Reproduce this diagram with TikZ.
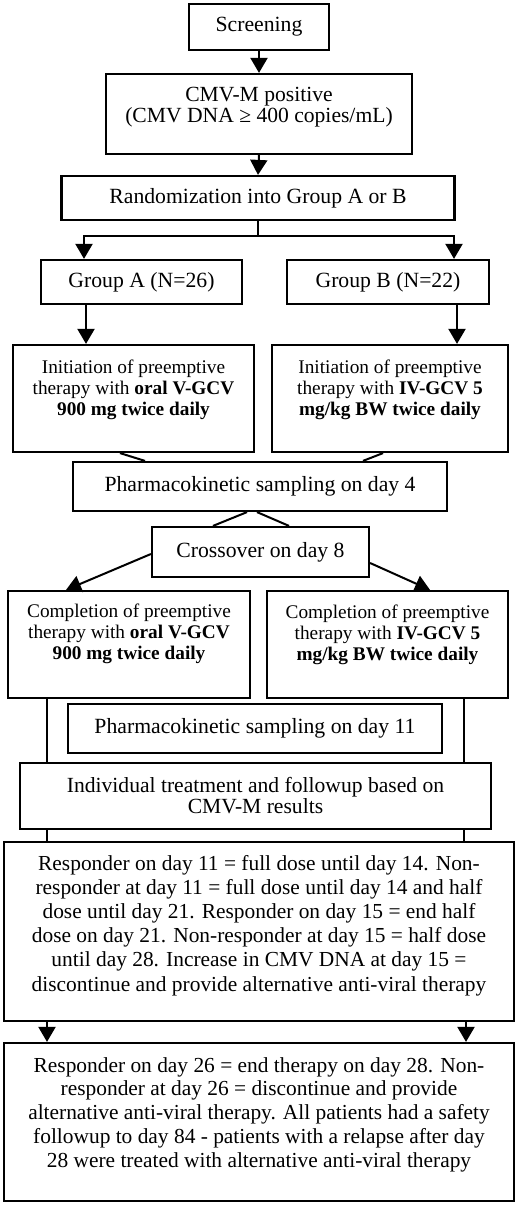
\documentclass[tikz,border=0pt]{standalone}
\usepackage{fontspec}
\setmainfont{Liberation Serif}
\usetikzlibrary{arrows.meta}
\tikzset{
  box/.style={draw, line width=2.2pt, inner sep=0pt, align=center, font=\fontsize{21.7pt}{21.7pt}\selectfont},
  pbox/.style={draw, line width=2.2pt, inner sep=0pt},
  conn/.style={line width=2pt},
  arr/.style={conn, -{Triangle[width=17pt,length=15pt]}},
}
% width, height, font size, leading, first baseline, text
\newcommand{\tb}[6]{\parbox[c][#2pt][t]{#1pt}{\fontsize{#3pt}{#4pt}\selectfont\centering\rule{0pt}{#5pt}#6\par}}
\begin{document}
\begin{tikzpicture}[x=1pt,y=-1pt]
\useasboundingbox (0,0) rectangle (520,1206);
\fill[white] (0,0) rectangle (520,1206);

\node[box, minimum width=140pt, minimum height=46pt] (scr) at (259,27) {Screening};
\node[pbox] (cmv) at (259,114) {\tb{306}{80}{21.6}{21}{28}{CMV-M positive\\ (CMV DNA ≥ 400 copies/mL)}};
\node[box, minimum width=393pt, minimum height=44pt] (rand) at (258,198) {Randomization into Group A or B};
\node[box, minimum width=201pt, minimum height=44pt] (ga) at (141.5,282) {Group A (N=26)};
\node[box, minimum width=202pt, minimum height=44pt] (gb) at (388,282) {Group B (N=22)};
\node[pbox] (ia) at (133.5,398.5) {\tb{241}{107}{19.3}{21}{28}{Initiation of preemptive\\ therapy with \textbf{oral V-GCV}\\ \textbf{900 mg twice daily}}};
\node[pbox] (ib) at (390,398.5) {\tb{236}{107}{19.3}{21}{28}{Initiation of preemptive\\ therapy with \textbf{IV-GCV 5}\\ \textbf{mg/kg BW twice daily}}};
\node[box, minimum width=374pt, minimum height=49pt] (pk4) at (260,486.5) {Pharmacokinetic sampling on day 4};
\node[box, minimum width=217pt, minimum height=50pt] (cross) at (260.5,552) {Crossover on day 8};
\node[pbox] (ca) at (129,644.5) {\tb{242}{107}{19.3}{21}{26}{Completion of preemptive\\ therapy with \textbf{oral V-GCV}\\ \textbf{900 mg twice daily}}};
\node[pbox] (cb) at (387.5,644.5) {\tb{241}{107}{19.3}{21}{27}{Completion of preemptive\\ therapy with \textbf{IV-GCV 5}\\ \textbf{mg/kg BW twice daily}}};
\node[box, minimum width=374pt, minimum height=49pt] (pk11) at (255,728.5) {Pharmacokinetic sampling on day 11};
\node[pbox] (ind) at (255.5,796) {\tb{471}{66}{21.6}{21}{29}{Individual treatment and followup based on\\ CMV-M results}};
\node[pbox] (resp) at (259,931.5) {\tb{510}{179}{21.4}{24.2}{28}{Responder on day 11 = full dose until day 14. Non-\\ responder at day 11 = full dose until day 14 and half\\ dose until day 21. Responder on day 15 = end half\\ dose on day 21. Non-responder at day 15 = half dose\\ until day 28. Increase in CMV DNA at day 15 =\\ discontinue and provide alternative anti-viral therapy}};
\node[pbox] (fin) at (259,1122) {\tb{510}{158}{21.4}{23.8}{29}{Responder on day 26 = end therapy on day 28. Non-\\ responder at day 26 = discontinue and provide\\ alternative anti-viral therapy. All patients had a safety\\ followup to day 84 - patients with a relapse after day\\ 28 were treated with alternative anti-viral therapy}};

% connectors
\coordinate (jA) at (84,236);
\coordinate (jB) at (454,236);
\coordinate (xA) at (86,0);
\coordinate (xB) at (457,0);
\coordinate (xL) at (46.5,0);
\coordinate (xR) at (463.5,0);
\coordinate (xL2) at (47,0);
\coordinate (xR2) at (466,0);

\draw[arr] (scr.south) -- (cmv.north);
\draw[arr] (cmv.south) -- (rand.north);
\draw[arr] (rand.south) |- (jA) -- (jA |- ga.north);
\draw[arr] (rand.south) |- (jB) -- (jB |- gb.north);
\draw[arr] (ga.south -| xA) -- (ia.north -| xA);
\draw[arr] (gb.south -| xB) -- (ib.north -| xB);
\draw[conn] ([xshift=-13.5pt]ia.south) -- ([xshift=-115pt]pk4.north);
\draw[conn] ([xshift=-7pt]ib.south) -- ([xshift=103pt]pk4.north);
\draw[conn] ([xshift=-13pt]pk4.south) -- ([xshift=-47.5pt]cross.north);
\draw[conn] ([xshift=-3pt]pk4.south) -- ([xshift=28.5pt]cross.north);
\draw[arr] ([yshift=-2pt]cross.west) -- ([xshift=-63pt]ca.north);
\draw[arr] ([yshift=-11pt]cross.east) -- ([xshift=42.5pt]cb.north);
\draw[conn] (ca.south -| xL) -- (ind.north -| xL);
\draw[conn] (cb.south -| xR) -- (ind.north -| xR);
\draw[conn] (ind.south -| xL) -- (resp.north -| xL);
\draw[conn] (ind.south -| xR) -- (resp.north -| xR);
\draw[arr] (resp.south -| xL2) -- (fin.north -| xL2);
\draw[arr] (resp.south -| xR2) -- (fin.north -| xR2);
\end{tikzpicture}
\end{document}
